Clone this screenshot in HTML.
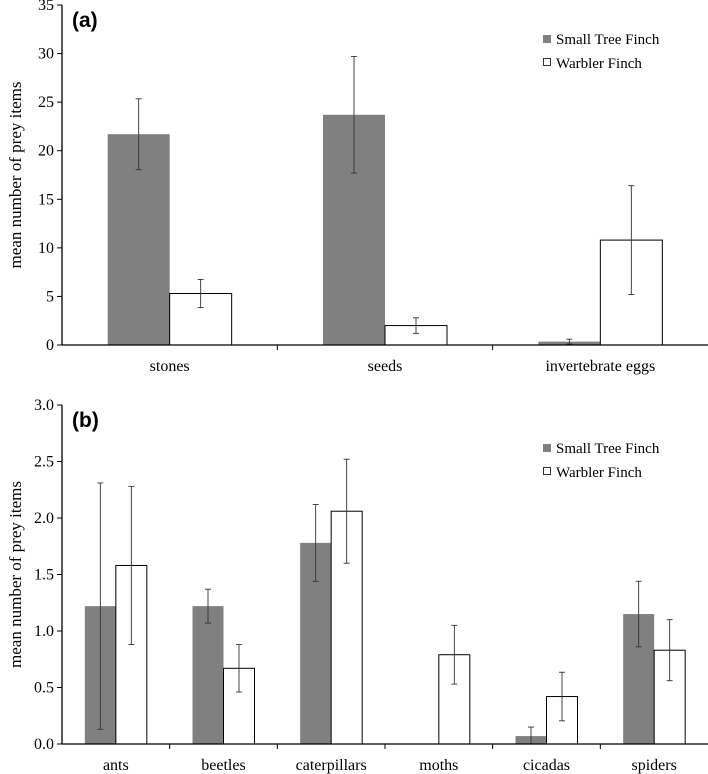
<!DOCTYPE html>
<html><head><meta charset="utf-8"><style>
body{margin:0;background:#fff}
svg{display:block;font-family:"Liberation Serif",serif}
</style></head><body>
<svg id="chart" width="708" height="774" viewBox="0 0 708 774"></svg>
<script>
const catsA=["stones","seeds","invertebrate eggs"];
const stfA=[21.7,23.7,0.35];
const stfErrA=[3.65,6.0,0.25];
const wfA=[5.3,2.0,10.8];
const wfErrA=[1.45,0.8,5.6];
const ticksA=[0,5,10,15,20,25,30,35];

const catsB=["ants","beetles","caterpillars","moths","cicadas","spiders"];
const stfB=[1.22,1.22,1.78,0,0.07,1.15];
const stfErrB=[1.09,0.15,0.34,0,0.08,0.29];
const wfB=[1.58,0.67,2.06,0.79,0.42,0.83];
const wfErrB=[0.70,0.21,0.46,0.26,0.215,0.27];
const ticksB=["0.0","0.5","1.0","1.5","2.0","2.5","3.0"];

const NS="http://www.w3.org/2000/svg";
const svg=document.getElementById('chart');
function mk(tag,attrs,parent){const e=document.createElementNS(NS,tag);for(const k in attrs)e.setAttribute(k,attrs[k]);(parent||svg).appendChild(e);return e;}

function panel(o){
  const g=mk('g',{});
  
  
  const x0=62,x1=708;
  const y=v=>o.y0-(v/o.max)*(o.y0-o.yTop);
  const cw=(x1-x0)/o.cats.length;
  // y axis
  const ax=mk('line',{x1:x0,y1:o.yTop,x2:x0,y2:o.y0,stroke:'#000','stroke-width':1.3},g);
  
  o.ticks.forEach(t=>{
    const v=parseFloat(t),yy=y(v);
    mk('line',{x1:x0-5,y1:yy,x2:x0,y2:yy,stroke:'#000','stroke-width':1},g);
    const tx=mk('text',{x:x0-8,y:yy+5,'text-anchor':'end','font-size':16},g);
    tx.textContent=t;
    
  });
  const yt=mk('text',{transform:`translate(21,${(o.y0+o.yTop)/2}) rotate(-90)`,'text-anchor':'middle','font-size':17},g);
  yt.textContent='mean number of prey items';
  
  const bw=o.bw;
  o.cats.forEach((c,i)=>{
    const cx=x0+cw*(i+0.5);
    const b1=mk('rect',{x:cx-bw,y:y(o.s[i]),width:bw,height:o.y0-y(o.s[i]),fill:'#808080'},g);
    
    const b2=mk('rect',{x:cx,y:y(o.w[i]),width:bw,height:o.y0-y(o.w[i]),fill:'#fff',stroke:'#000','stroke-width':1},g);
    
    [[cx-bw/2,o.s[i],o.se[i]],[cx+bw/2,o.w[i],o.we[i]]].forEach(([ex,v,e])=>{
      if(e<=0)return;
      const eg=mk('g',{stroke:'#333','stroke-width':0.9},g);
      
      const lo=Math.max(0,v-e);
      mk('line',{x1:ex,y1:y(v+e),x2:ex,y2:y(lo)},eg);
      mk('line',{x1:ex-3,y1:y(v+e),x2:ex+3,y2:y(v+e)},eg);
      mk('line',{x1:ex-3,y1:y(lo),x2:ex+3,y2:y(lo)},eg);
    });
    const lt=mk('text',{x:cx,y:o.y0+26,'text-anchor':'middle','font-size':16},g);
    lt.textContent=c;
    
    if(i>0)mk('line',{x1:x0+cw*i,y1:o.y0,x2:x0+cw*i,y2:o.y0+5,stroke:'#000','stroke-width':1},g);
  });
  const xa=mk('line',{x1:x0,y1:o.y0,x2:x1,y2:o.y0,stroke:'#000','stroke-width':1.3},g);
  
  const pl=mk('text',{x:72,y:o.yTop+22,'font-size':21,'font-weight':'bold','font-family':'Liberation Sans, sans-serif'},g);
  pl.textContent=o.label;
  
  const lg=mk('g',{},g);
  
  const l1=mk('g',{},lg);
  mk('rect',{x:543,y:o.ly-4,width:8,height:8,fill:'#808080'},l1);
  mk('text',{x:556,y:o.ly+5,'font-size':15},l1).textContent='Small Tree Finch';
  const l2=mk('g',{},lg);
  mk('rect',{x:543.5,y:o.ly+19.5,width:7,height:7,fill:'#fff',stroke:'#000','stroke-width':0.8},l2);
  mk('text',{x:556,y:o.ly+29,'font-size':15},l2).textContent='Warbler Finch';
}
panel({name:'panel-a',cats:catsA,s:stfA,se:stfErrA,w:wfA,we:wfErrA,ticks:ticksA.map(String),max:35,y0:345,yTop:5,bw:62,label:'(a)',ly:39});
panel({name:'panel-b',cats:catsB,s:stfB,se:stfErrB,w:wfB,we:wfErrB,ticks:ticksB,max:3,y0:744,yTop:405,bw:31,label:'(b)',ly:448});
</script>
</body></html>
